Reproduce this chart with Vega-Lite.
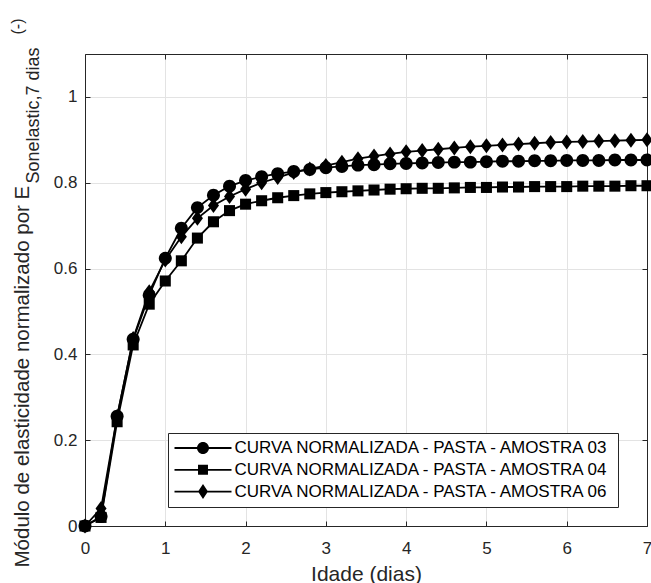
{
  "$schema": "https://vega.github.io/schema/vega-lite/v6.json",
  "width": 562,
  "height": 472,
  "autosize": {"type": "none"},
  "padding": {"left": 85, "top": 54, "right": 4, "bottom": 57},
  "background": "white",
  "config": {
    "view": {"stroke": null},
    "font": "Liberation Sans",
    "axis": {
      "labelFont": "Liberation Sans",
      "titleFont": "Liberation Sans",
      "labelColor": "#262626",
      "titleColor": "#262626",
      "titleFontWeight": "normal",
      "tickColor": "#262626",
      "domainColor": "#262626",
      "domain": true,
      "gridColor": "#e3e3e3",
      "gridOpacity": 1,
      "labelFlush": false
    }
  },
  "data": {
    "values": [
      {"amostra": "03", "t": 0, "v": 0}, {"amostra": "03", "t": 0.2, "v": 0.022}, {"amostra": "03", "t": 0.4, "v": 0.256}, {"amostra": "03", "t": 0.6, "v": 0.435}, {"amostra": "03", "t": 0.8, "v": 0.538}, {"amostra": "03", "t": 1, "v": 0.624}, {"amostra": "03", "t": 1.2, "v": 0.694}, {"amostra": "03", "t": 1.4, "v": 0.742}, {"amostra": "03", "t": 1.6, "v": 0.771}, {"amostra": "03", "t": 1.8, "v": 0.792}, {"amostra": "03", "t": 2, "v": 0.805}, {"amostra": "03", "t": 2.2, "v": 0.814}, {"amostra": "03", "t": 2.4, "v": 0.821}, {"amostra": "03", "t": 2.6, "v": 0.826}, {"amostra": "03", "t": 2.8, "v": 0.831}, {"amostra": "03", "t": 3, "v": 0.835}, {"amostra": "03", "t": 3.2, "v": 0.838}, {"amostra": "03", "t": 3.4, "v": 0.841}, {"amostra": "03", "t": 3.6, "v": 0.842}, {"amostra": "03", "t": 3.8, "v": 0.844}, {"amostra": "03", "t": 4, "v": 0.845}, {"amostra": "03", "t": 4.2, "v": 0.846}, {"amostra": "03", "t": 4.4, "v": 0.847}, {"amostra": "03", "t": 4.6, "v": 0.848}, {"amostra": "03", "t": 4.8, "v": 0.848}, {"amostra": "03", "t": 5, "v": 0.849}, {"amostra": "03", "t": 5.2, "v": 0.85}, {"amostra": "03", "t": 5.4, "v": 0.85}, {"amostra": "03", "t": 5.6, "v": 0.851}, {"amostra": "03", "t": 5.8, "v": 0.851}, {"amostra": "03", "t": 6, "v": 0.852}, {"amostra": "03", "t": 6.2, "v": 0.852}, {"amostra": "03", "t": 6.4, "v": 0.852}, {"amostra": "03", "t": 6.6, "v": 0.853}, {"amostra": "03", "t": 6.8, "v": 0.853}, {"amostra": "03", "t": 7, "v": 0.853},
      {"amostra": "04", "t": 0, "v": 0}, {"amostra": "04", "t": 0.2, "v": 0.02}, {"amostra": "04", "t": 0.4, "v": 0.243}, {"amostra": "04", "t": 0.6, "v": 0.422}, {"amostra": "04", "t": 0.8, "v": 0.517}, {"amostra": "04", "t": 1, "v": 0.571}, {"amostra": "04", "t": 1.2, "v": 0.618}, {"amostra": "04", "t": 1.4, "v": 0.671}, {"amostra": "04", "t": 1.6, "v": 0.709}, {"amostra": "04", "t": 1.8, "v": 0.735}, {"amostra": "04", "t": 2, "v": 0.75}, {"amostra": "04", "t": 2.2, "v": 0.758}, {"amostra": "04", "t": 2.4, "v": 0.765}, {"amostra": "04", "t": 2.6, "v": 0.77}, {"amostra": "04", "t": 2.8, "v": 0.774}, {"amostra": "04", "t": 3, "v": 0.777}, {"amostra": "04", "t": 3.2, "v": 0.779}, {"amostra": "04", "t": 3.4, "v": 0.781}, {"amostra": "04", "t": 3.6, "v": 0.783}, {"amostra": "04", "t": 3.8, "v": 0.785}, {"amostra": "04", "t": 4, "v": 0.786}, {"amostra": "04", "t": 4.2, "v": 0.787}, {"amostra": "04", "t": 4.4, "v": 0.787}, {"amostra": "04", "t": 4.6, "v": 0.788}, {"amostra": "04", "t": 4.8, "v": 0.789}, {"amostra": "04", "t": 5, "v": 0.789}, {"amostra": "04", "t": 5.2, "v": 0.79}, {"amostra": "04", "t": 5.4, "v": 0.79}, {"amostra": "04", "t": 5.6, "v": 0.791}, {"amostra": "04", "t": 5.8, "v": 0.791}, {"amostra": "04", "t": 6, "v": 0.791}, {"amostra": "04", "t": 6.2, "v": 0.792}, {"amostra": "04", "t": 6.4, "v": 0.792}, {"amostra": "04", "t": 6.6, "v": 0.792}, {"amostra": "04", "t": 6.8, "v": 0.793}, {"amostra": "04", "t": 7, "v": 0.793},
      {"amostra": "06", "t": 0, "v": 0}, {"amostra": "06", "t": 0.2, "v": 0.041}, {"amostra": "06", "t": 0.4, "v": 0.255}, {"amostra": "06", "t": 0.6, "v": 0.437}, {"amostra": "06", "t": 0.8, "v": 0.546}, {"amostra": "06", "t": 1, "v": 0.62}, {"amostra": "06", "t": 1.2, "v": 0.674}, {"amostra": "06", "t": 1.4, "v": 0.717}, {"amostra": "06", "t": 1.6, "v": 0.747}, {"amostra": "06", "t": 1.8, "v": 0.768}, {"amostra": "06", "t": 2, "v": 0.785}, {"amostra": "06", "t": 2.2, "v": 0.8}, {"amostra": "06", "t": 2.4, "v": 0.812}, {"amostra": "06", "t": 2.6, "v": 0.824}, {"amostra": "06", "t": 2.8, "v": 0.832}, {"amostra": "06", "t": 3, "v": 0.84}, {"amostra": "06", "t": 3.2, "v": 0.848}, {"amostra": "06", "t": 3.4, "v": 0.856}, {"amostra": "06", "t": 3.6, "v": 0.862}, {"amostra": "06", "t": 3.8, "v": 0.867}, {"amostra": "06", "t": 4, "v": 0.872}, {"amostra": "06", "t": 4.2, "v": 0.875}, {"amostra": "06", "t": 4.4, "v": 0.878}, {"amostra": "06", "t": 4.6, "v": 0.881}, {"amostra": "06", "t": 4.8, "v": 0.884}, {"amostra": "06", "t": 5, "v": 0.886}, {"amostra": "06", "t": 5.2, "v": 0.888}, {"amostra": "06", "t": 5.4, "v": 0.89}, {"amostra": "06", "t": 5.6, "v": 0.892}, {"amostra": "06", "t": 5.8, "v": 0.894}, {"amostra": "06", "t": 6, "v": 0.895}, {"amostra": "06", "t": 6.2, "v": 0.896}, {"amostra": "06", "t": 6.4, "v": 0.897}, {"amostra": "06", "t": 6.6, "v": 0.898}, {"amostra": "06", "t": 6.8, "v": 0.899}, {"amostra": "06", "t": 7, "v": 0.9}
    ]
  },
  "resolve": {
    "axis": {"x": "independent", "y": "independent"},
    "scale": {"shape": "independent"}
  },
  "layer": [
    {
      "mark": {"type": "line", "color": "black", "strokeWidth": 1.8, "clip": false},
      "encoding": {
        "x": {
          "field": "t", "type": "quantitative",
          "scale": {"domain": [0, 7], "nice": false, "zero": false},
          "axis": {
            "orient": "bottom",
            "values": [0, 1, 2, 3, 4, 5, 6, 7], "format": "d",
            "labelFontSize": 17, "labelPadding": 19, "tickSize": -5,
            "grid": true,
            "title": "Idade (dias)", "titleFontSize": 21,
            "titleY": 54, "titleBaseline": "alphabetic"
          }
        },
        "y": {
          "field": "v", "type": "quantitative",
          "scale": {"domain": [0, 1.1], "nice": false},
          "axis": {
            "orient": "left",
            "values": [0, 0.2, 0.4, 0.6, 0.8, 1], "format": "~g",
            "labelFontSize": 17, "labelPadding": 13, "tickSize": -5,
            "grid": true,
            "title": "Módulo de elasticidade normalizado por E", "titleFontSize": 20.5,
            "titleAngle": 270, "titleAlign": "left", "titleBaseline": "alphabetic",
            "titleX": -56.5, "titleY": 513
          }
        },
        "detail": {"field": "amostra", "type": "nominal"}
      }
    },
    {
      "mark": {"type": "point", "filled": true, "color": "black", "opacity": 1, "size": 144, "clip": false},
      "encoding": {
        "x": {
          "field": "t", "type": "quantitative",
          "axis": {"orient": "top", "values": [0, 1, 2, 3, 4, 5, 6, 7], "labels": false, "title": null, "grid": false, "tickSize": -5}
        },
        "y": {
          "field": "v", "type": "quantitative",
          "axis": {"orient": "right", "values": [0, 0.2, 0.4, 0.6, 0.8, 1], "labels": false, "title": null, "grid": false, "tickSize": -5}
        },
        "shape": {
          "field": "amostra", "type": "nominal",
          "scale": {
            "domain": ["03", "04", "06"],
            "range": [
              "M-1.08,0A1.08,1.08 0 1,0 1.08,0A1.08,1.08 0 1,0 -1.08,0Z",
              "M-0.92,-0.92H0.92V0.92H-0.92Z",
              "M0,-1.25L0.92,0L0,1.25L-0.92,0Z"
            ]
          },
          "legend": null
        }
      }
    },
    {
      "transform": [{"filter": "datum.t > 100"}],
      "mark": {"type": "point", "filled": true, "color": "black", "opacity": 1, "size": 144},
      "encoding": {
        "x": {"field": "t", "type": "quantitative", "axis": null},
        "y": {
          "field": "v", "type": "quantitative",
          "axis": {
            "orient": "left", "labels": false, "ticks": false, "grid": false, "domain": false,
            "title": "Sonelastic,7 dias", "titleFontSize": 18,
            "titleAngle": 270, "titleAlign": "left", "titleBaseline": "alphabetic",
            "titleX": -46.5, "titleY": 129
          }
        },
        "shape": {
          "field": "amostra", "type": "nominal",
          "scale": {
            "domain": ["03", "04", "06"],
            "range": [
              "M-4.75,-0.15H4.75V0.15H-4.75ZM-1,0A1,1 0 1,1 1,0A1,1 0 1,1 -1,0Z",
              "M-4.75,-0.15H4.75V0.15H-4.75ZM-0.83,-0.83H0.83V0.83H-0.83Z",
              "M-4.75,-0.15H4.75V0.15H-4.75ZM0,-1.25L0.83,0L0,1.25L-0.83,0Z"
            ]
          },
          "legend": {
            "title": null,
            "orient": "none", "legendX": 83, "legendY": 379,
            "labelExpr": "'CURVA NORMALIZADA - PASTA - AMOSTRA ' + datum.label + '    '",
            "labelFont": "Liberation Sans", "labelFontSize": 17, "labelColor": "black", "labelLimit": 700,
            "symbolSize": 144, "symbolOffset": 20, "labelOffset": 23,
            "symbolStrokeWidth": 0, "symbolFillColor": "black",
            "padding": 6.5, "rowPadding": 3.8,
            "fillColor": "white", "strokeColor": "#262626",
            "encode": {
              "symbols": {
                "fill": {"value": "black"},
                "opacity": {"value": 1}
              }
            }
          }
        }
      }
    },
    {
      "transform": [{"filter": "datum.t > 100"}],
      "mark": {"type": "point", "opacity": 0},
      "encoding": {
        "x": {"field": "t", "type": "quantitative", "axis": null},
        "y": {
          "field": "v", "type": "quantitative",
          "axis": {
            "orient": "left", "labels": false, "ticks": false, "grid": false, "domain": false,
            "title": "(-)", "titleFontSize": 16,
            "titleAngle": 270, "titleAlign": "left", "titleBaseline": "alphabetic",
            "titleX": -63, "titleY": -20
          }
        }
      }
    }
  ]
}
